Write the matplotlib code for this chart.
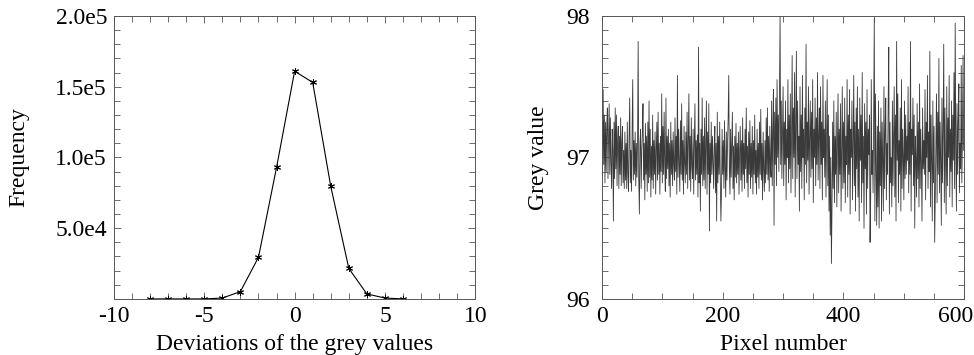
import numpy as np
import matplotlib
matplotlib.use("Agg")
import matplotlib.pyplot as plt
from matplotlib.ticker import MultipleLocator, FixedLocator
from matplotlib.transforms import ScaledTranslation

plt.rcParams['font.family'] = ['Liberation Serif', 'DejaVu Serif']
plt.rcParams['axes.unicode_minus'] = False

# histogram of deviations
dev = [-8, -7, -6, -5, -4, -3, -2, -1, 0, 1, 2, 3, 4, 5, 6]
freq = [0, 0, 0, 0, 600, 5200, 29500, 93000, 161000, 153000, 79500, 21500, 3500, 600, 0]

# grey values along a row of 600 pixels
grey = [
    97.40, 96.88, 97.48, 96.95, 97.30, 96.82, 97.25, 96.90, 97.22, 97.35, 96.85, 97.15, 97.38, 96.88, 97.28, 96.95, 96.78, 97.20, 97.05, 96.55,
    97.25, 96.85, 97.35, 96.92, 97.30, 96.80, 97.12, 97.22, 96.78, 97.15, 96.88, 97.28, 96.80, 97.10, 97.22, 96.82, 97.05, 96.78, 97.18, 96.84,
    97.10, 96.78, 97.25, 96.88, 96.76, 97.15, 97.42, 96.82, 97.05, 96.76, 97.20, 97.55, 96.84, 97.12, 96.88, 97.18, 96.80, 97.10, 96.86, 97.12,
    97.82, 96.85, 96.60, 97.10, 97.20, 96.78, 97.05, 97.18, 97.38, 96.84, 97.10, 96.70, 97.24, 96.88, 97.15, 96.76, 97.25, 96.82, 97.40, 96.86,
    97.20, 96.72, 97.08, 96.84, 97.30, 96.78, 97.12, 96.88, 97.18, 96.74, 97.05, 97.25, 96.84, 97.32, 96.88, 97.10, 96.74, 97.15, 96.90, 97.45,
    96.82, 97.22, 96.88, 97.32, 96.95, 96.76, 97.42, 96.85, 97.15, 96.92, 97.20, 96.80, 97.10, 96.72, 97.25, 96.88, 97.12, 96.80, 97.18, 96.95,
    96.84, 97.28, 96.90, 97.15, 96.74, 97.58, 96.86, 97.20, 96.95, 96.76, 97.26, 96.88, 97.38, 96.84, 97.12, 96.74, 97.22, 96.96, 96.82, 97.18,
    96.88, 97.32, 96.78, 97.10, 97.45, 96.84, 97.15, 96.76, 97.28, 96.94, 96.85, 97.20, 96.74, 97.10, 97.38, 96.84, 97.12, 96.88, 97.16, 96.72,
    97.78, 96.82, 97.10, 96.62, 97.20, 96.88, 97.42, 96.80, 97.15, 96.84, 97.28, 96.78, 97.08, 97.40, 96.74, 97.18, 96.88, 97.38, 96.48, 97.10,
    96.82, 97.25, 96.88, 97.15, 96.95, 96.78, 97.08, 97.22, 96.75, 97.10, 96.55, 97.32, 96.82, 97.15, 96.88, 97.25, 96.84, 96.55, 96.76, 97.20,
    96.88, 97.12, 96.78, 97.26, 96.92, 96.72, 97.18, 96.84, 97.10, 97.28, 97.58, 96.92, 96.74, 97.20, 96.86, 97.10, 97.32, 96.78, 97.08, 96.70,
    97.15, 96.86, 97.24, 96.82, 97.10, 96.88, 97.18, 96.74, 97.05, 97.22, 96.84, 97.12, 96.76, 97.28, 96.88, 97.10, 96.78, 97.20, 96.92, 97.35,
    96.82, 97.08, 96.72, 97.18, 96.88, 97.26, 96.78, 97.10, 96.86, 97.22, 96.74, 97.12, 96.88, 97.30, 96.82, 97.05, 96.74, 97.20, 96.86, 97.10,
    96.78, 97.25, 96.88, 97.34, 96.84, 97.10, 96.70, 97.18, 96.92, 96.76, 97.12, 96.82, 97.28, 96.88, 97.35, 96.84, 97.15, 96.76, 97.22, 96.95,
    96.86, 97.40, 96.80, 97.20, 97.48, 96.52, 97.32, 96.95, 97.42, 96.80, 97.55, 97.00, 97.30, 96.90, 97.45, 98.00, 96.95, 97.40, 96.85, 97.20,
    97.50, 96.80, 97.25, 96.95, 97.40, 96.70, 97.20, 97.00, 97.55, 96.82, 97.30, 96.92, 97.45, 96.75, 97.15, 97.72, 96.85, 97.35, 97.00, 97.60,
    96.72, 97.25, 97.75, 96.85, 97.40, 96.95, 97.15, 96.62, 97.50, 96.90, 97.30, 96.78, 97.58, 97.00, 97.20, 96.70, 97.35, 96.95, 97.80, 96.82,
    97.25, 96.98, 97.50, 96.74, 97.15, 97.40, 96.86, 97.32, 96.92, 97.55, 96.68, 97.20, 97.00, 97.42, 96.80, 97.28, 96.95, 97.60, 96.84, 97.15,
    97.35, 96.78, 97.50, 96.95, 97.25, 96.70, 97.58, 97.00, 97.20, 96.86, 97.40, 96.72, 97.12, 97.55, 96.80, 97.30, 96.62, 97.15, 96.45, 97.00,
    96.25, 96.65, 97.25, 96.78, 97.40, 96.68, 97.15, 96.88, 97.32, 96.65, 97.10, 97.45, 96.75, 97.20, 96.88, 97.38, 96.62, 97.05, 97.50, 96.78,
    97.25, 96.82, 97.42, 96.68, 97.15, 96.95, 97.55, 96.72, 97.30, 96.88, 97.48, 96.60, 97.20, 97.00, 97.40, 96.70, 97.10, 97.58, 96.80, 97.25,
    96.62, 97.35, 96.92, 97.50, 96.72, 97.20, 96.55, 97.42, 96.98, 97.30, 96.68, 97.60, 96.82, 97.15, 96.50, 97.38, 96.92, 97.25, 96.60, 97.48,
    96.78, 97.20, 97.02, 97.30, 96.40, 96.70, 97.55, 96.88, 97.05, 96.75, 97.30, 97.98, 96.55, 97.45, 96.92, 96.52, 97.22, 96.65, 97.40, 96.50,
    97.18, 96.80, 97.35, 96.55, 97.25, 96.98, 96.62, 97.50, 96.78, 97.20, 97.42, 96.70, 97.10, 96.88, 97.38, 97.78, 96.60, 97.25, 96.82, 97.00,
    96.65, 97.40, 96.80, 97.15, 97.50, 96.72, 97.30, 96.55, 97.82, 96.98, 97.45, 96.68, 97.12, 96.88, 97.35, 96.62, 97.55, 96.78, 97.20, 97.00,
    96.70, 97.40, 96.85, 97.30, 96.88, 97.15, 96.98, 97.50, 96.75, 97.25, 96.88, 97.82, 96.62, 97.20, 97.02, 97.42, 96.80, 97.30, 96.50, 97.15,
    96.98, 96.72, 97.38, 96.85, 97.25, 96.65, 97.52, 96.78, 97.20, 96.95, 96.55, 97.35, 96.92, 97.12, 96.88, 97.48, 96.70, 97.25, 97.00, 97.58,
    96.78, 97.18, 96.90, 97.75, 96.65, 97.30, 96.98, 96.55, 97.40, 96.82, 97.22, 96.40, 96.72, 97.10, 97.45, 96.68, 97.32, 96.88, 97.70, 96.75,
    97.25, 96.98, 96.52, 97.42, 96.82, 97.20, 97.80, 96.68, 97.35, 96.95, 96.60, 97.50, 96.80, 97.28, 97.00, 97.58, 96.72, 97.20, 96.90, 97.40,
    96.65, 97.30, 96.98, 97.60, 96.78, 97.95, 97.05, 96.62, 97.38, 96.88, 97.25, 97.52, 96.75, 97.10, 96.92, 97.65, 96.82, 97.15, 97.72, 97.05,
]
pixel = np.arange(len(grey))

fig = plt.figure(figsize=(9.74, 3.55), dpi=100)
ax1 = fig.add_axes([0.117, 0.158, 0.371, 0.797])
ax2 = fig.add_axes([0.618, 0.158, 0.372, 0.797])

ax1.plot(dev, freq, color='black', lw=0.8, marker=(6, 2, 0), ms=5, mew=0.7)
ax1.set_xlim(-10, 10)
ax1.set_ylim(0, 2e5)
ax1.xaxis.set_major_locator(MultipleLocator(5))
ax1.xaxis.set_minor_locator(MultipleLocator(1))
ax1.yaxis.set_major_locator(FixedLocator([5e4, 1e5, 1.5e5, 2e5]))
ax1.yaxis.set_minor_locator(MultipleLocator(1e4))
ax1.set_yticklabels(['5.0e4', '1.0e5', '1.5e5', '2.0e5'])
ax1.set_xlabel('Deviations of the grey values', fontsize=17)
ax1.set_ylabel('Frequency', fontsize=17)
ax1.yaxis.set_label_coords(-0.235, 0.5)
ax1.xaxis.set_label_coords(0.5, -0.125)

ax2.plot(pixel, grey, color='#3a3a3a', lw=0.6)
ax2.set_xlim(0, 600)
ax2.set_ylim(96, 98)
ax2.set_xticks([0, 200, 400, 600])
ax2.xaxis.set_minor_locator(MultipleLocator(50))
ax2.yaxis.set_major_locator(MultipleLocator(1))
ax2.yaxis.set_minor_locator(MultipleLocator(0.1))
ax2.set_xlabel('Pixel number', fontsize=17)
ax2.set_ylabel('Grey value', fontsize=17)
ax2.yaxis.set_label_coords(-0.146, 0.5)
ax2.xaxis.set_label_coords(0.5, -0.125)

for ax in (ax1, ax2):
    ax.tick_params(which='both', direction='in', top=True, right=True,
                   labelsize=17, color='#555555')
    ax.tick_params(which='major', length=5, width=0.6)
    ax.tick_params(which='minor', length=4, width=0.6)
    ax.tick_params(axis='x', pad=5)
    for s in ax.spines.values():
        s.set_linewidth(0.7)
        s.set_color('#555555')
ax1.tick_params(axis='y', pad=5)
ax2.tick_params(axis='y', pad=9)

# keep the last x label inside the figure, as in the original
fig.canvas.draw()
for lab in ax2.get_xticklabels():
    if lab.get_text() == '600':
        lab.set_transform(lab.get_transform() + ScaledTranslation(-9 / 100, 0, fig.dpi_scale_trans))

fig.savefig('out.png', dpi=100)
